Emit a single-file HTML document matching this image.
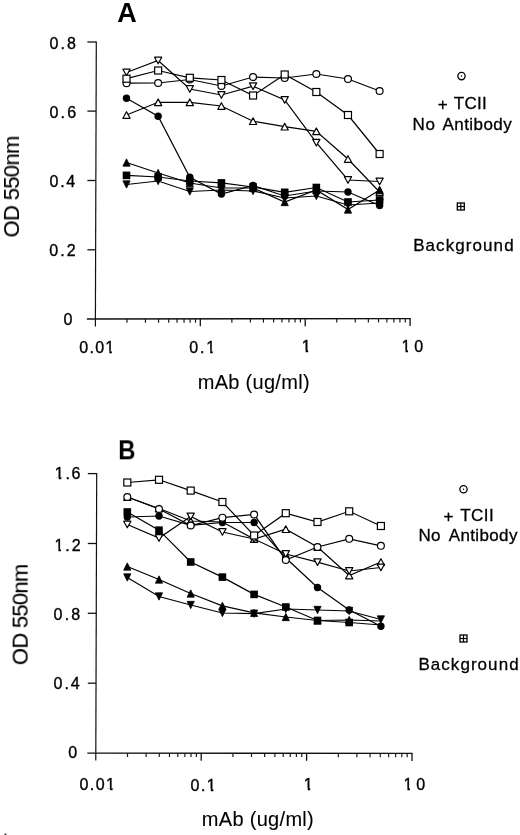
<!DOCTYPE html>
<html><head><meta charset="utf-8"><title>Figure</title><style>
*{margin:0;padding:0}
html,body{width:520px;height:835px;background:#fff;overflow:hidden}
body{position:relative;font-family:"Liberation Sans",sans-serif;color:#000}
.t{position:absolute;left:0;top:0;white-space:nowrap;line-height:1;will-change:transform;-webkit-text-stroke:0.35px #000}.one{display:inline-block;clip-path:polygon(0 0,100% 0,100% 0.68em,0.405em 0.68em,0.405em 100%,0.25em 100%,0.25em 0.68em,0 0.68em)}
</style></head>
<body>
<svg width="520" height="835" viewBox="0 0 520 835" style="position:absolute;left:0;top:0">
<rect width="520" height="835" fill="#fff"/>
<line x1="96.3" y1="41.4" x2="95.38" y2="326.5" stroke="#111" stroke-width="1.2"/><line x1="86.9" y1="319" x2="410.70" y2="318.6" stroke="#111" stroke-width="1.35"/><line x1="87.4" y1="42" x2="96.30" y2="42" stroke="#111" stroke-width="1.3"/><line x1="87.4" y1="111.1" x2="96.08" y2="111.1" stroke="#111" stroke-width="1.3"/><line x1="87.4" y1="180.5" x2="95.85" y2="180.5" stroke="#111" stroke-width="1.3"/><line x1="87.4" y1="249.8" x2="95.62" y2="249.8" stroke="#111" stroke-width="1.3"/><line x1="126.98" y1="318.96" x2="126.98" y2="322.76" stroke="#111" stroke-width="1.15"/><line x1="145.45" y1="318.94" x2="145.45" y2="322.74" stroke="#111" stroke-width="1.15"/><line x1="158.56" y1="318.92" x2="158.56" y2="322.72" stroke="#111" stroke-width="1.15"/><line x1="168.72" y1="318.91" x2="168.72" y2="322.71" stroke="#111" stroke-width="1.15"/><line x1="177.03" y1="318.90" x2="177.03" y2="322.70" stroke="#111" stroke-width="1.15"/><line x1="184.05" y1="318.89" x2="184.05" y2="322.69" stroke="#111" stroke-width="1.15"/><line x1="190.13" y1="318.88" x2="190.13" y2="322.68" stroke="#111" stroke-width="1.15"/><line x1="195.50" y1="318.87" x2="195.50" y2="322.67" stroke="#111" stroke-width="1.15"/><line x1="231.88" y1="318.83" x2="231.88" y2="322.63" stroke="#111" stroke-width="1.15"/><line x1="250.35" y1="318.80" x2="250.35" y2="322.60" stroke="#111" stroke-width="1.15"/><line x1="263.46" y1="318.79" x2="263.46" y2="322.59" stroke="#111" stroke-width="1.15"/><line x1="273.62" y1="318.77" x2="273.62" y2="322.57" stroke="#111" stroke-width="1.15"/><line x1="281.93" y1="318.76" x2="281.93" y2="322.56" stroke="#111" stroke-width="1.15"/><line x1="288.95" y1="318.75" x2="288.95" y2="322.55" stroke="#111" stroke-width="1.15"/><line x1="295.03" y1="318.75" x2="295.03" y2="322.55" stroke="#111" stroke-width="1.15"/><line x1="300.40" y1="318.74" x2="300.40" y2="322.54" stroke="#111" stroke-width="1.15"/><line x1="336.78" y1="318.69" x2="336.78" y2="322.49" stroke="#111" stroke-width="1.15"/><line x1="355.25" y1="318.67" x2="355.25" y2="322.47" stroke="#111" stroke-width="1.15"/><line x1="368.36" y1="318.65" x2="368.36" y2="322.45" stroke="#111" stroke-width="1.15"/><line x1="378.52" y1="318.64" x2="378.52" y2="322.44" stroke="#111" stroke-width="1.15"/><line x1="386.83" y1="318.63" x2="386.83" y2="322.43" stroke="#111" stroke-width="1.15"/><line x1="393.85" y1="318.62" x2="393.85" y2="322.42" stroke="#111" stroke-width="1.15"/><line x1="399.93" y1="318.61" x2="399.93" y2="322.41" stroke="#111" stroke-width="1.15"/><line x1="405.30" y1="318.61" x2="405.30" y2="322.41" stroke="#111" stroke-width="1.15"/><line x1="200.30" y1="318.87" x2="200.30" y2="326.37" stroke="#111" stroke-width="1.3"/><line x1="305.20" y1="318.73" x2="305.20" y2="326.23" stroke="#111" stroke-width="1.3"/><line x1="410.10" y1="318.60" x2="410.10" y2="326.10" stroke="#111" stroke-width="1.3"/>
<polyline points="126.5,175.4 158.1,177.0 189.8,181.0 221.4,182.9 253.1,187.0 284.7,192.3 316.3,187.5 348.0,202.0 379.6,200.0" fill="none" stroke="#000" stroke-width="1.2"/><polyline points="126.5,162.5 158.1,173.0 189.8,183.0 221.4,188.0 253.1,188.0 284.7,202.0 316.3,190.0 348.0,209.5 379.6,190.0" fill="none" stroke="#000" stroke-width="1.2"/><polyline points="126.5,184.5 158.1,181.0 189.8,191.5 221.4,190.0 253.1,191.0 284.7,198.0 316.3,196.0 348.0,205.0 379.6,203.0" fill="none" stroke="#000" stroke-width="1.2"/><polyline points="126.5,115.0 158.1,102.3 189.8,102.3 221.4,106.0 253.1,121.2 284.7,126.7 316.3,131.3 348.0,159.0 379.6,192.0" fill="none" stroke="#000" stroke-width="1.2"/><polyline points="126.5,98.2 158.1,116.2 189.8,177.3 221.4,194.0 253.1,185.5 284.7,196.0 316.3,191.0 348.0,192.0 379.6,205.5" fill="none" stroke="#000" stroke-width="1.2"/><polyline points="126.5,72.5 158.1,60.5 189.8,89.0 221.4,95.0 253.1,86.2 284.7,100.0 316.3,142.7 348.0,180.0 379.6,181.5" fill="none" stroke="#000" stroke-width="1.2"/><polyline points="126.5,83.2 158.1,83.0 189.8,79.5 221.4,86.0 253.1,77.0 284.7,78.0 316.3,74.0 348.0,79.0 379.6,91.0" fill="none" stroke="#000" stroke-width="1.2"/><polyline points="126.5,78.7 158.1,70.5 189.8,77.8 221.4,80.0 253.1,95.5 284.7,74.5 316.3,92.0 348.0,115.0 379.6,154.0" fill="none" stroke="#000" stroke-width="1.2"/>
<rect x="122.70" y="171.60" width="7.6" height="7.6" fill="#000"/><rect x="154.34" y="173.20" width="7.6" height="7.6" fill="#000"/><rect x="185.98" y="177.20" width="7.6" height="7.6" fill="#000"/><rect x="217.62" y="179.10" width="7.6" height="7.6" fill="#000"/><rect x="249.26" y="183.20" width="7.6" height="7.6" fill="#000"/><rect x="280.90" y="188.50" width="7.6" height="7.6" fill="#000"/><rect x="312.54" y="183.70" width="7.6" height="7.6" fill="#000"/><rect x="344.18" y="198.20" width="7.6" height="7.6" fill="#000"/><rect x="375.82" y="196.20" width="7.6" height="7.6" fill="#000"/><polygon points="122.90,166.15 130.10,166.15 126.50,158.85" fill="#000" stroke="#000" stroke-width="0.8" stroke-linejoin="round"/><polygon points="154.54,176.65 161.74,176.65 158.14,169.35" fill="#000" stroke="#000" stroke-width="0.8" stroke-linejoin="round"/><polygon points="186.18,186.65 193.38,186.65 189.78,179.35" fill="#000" stroke="#000" stroke-width="0.8" stroke-linejoin="round"/><polygon points="217.82,191.65 225.02,191.65 221.42,184.35" fill="#000" stroke="#000" stroke-width="0.8" stroke-linejoin="round"/><polygon points="249.46,191.65 256.66,191.65 253.06,184.35" fill="#000" stroke="#000" stroke-width="0.8" stroke-linejoin="round"/><polygon points="281.10,205.65 288.30,205.65 284.70,198.35" fill="#000" stroke="#000" stroke-width="0.8" stroke-linejoin="round"/><polygon points="312.74,193.65 319.94,193.65 316.34,186.35" fill="#000" stroke="#000" stroke-width="0.8" stroke-linejoin="round"/><polygon points="344.38,213.15 351.58,213.15 347.98,205.85" fill="#000" stroke="#000" stroke-width="0.8" stroke-linejoin="round"/><polygon points="376.02,193.65 383.22,193.65 379.62,186.35" fill="#000" stroke="#000" stroke-width="0.8" stroke-linejoin="round"/><polygon points="122.90,180.85 130.10,180.85 126.50,188.15" fill="#000" stroke="#000" stroke-width="0.8" stroke-linejoin="round"/><polygon points="154.54,177.35 161.74,177.35 158.14,184.65" fill="#000" stroke="#000" stroke-width="0.8" stroke-linejoin="round"/><polygon points="186.18,187.85 193.38,187.85 189.78,195.15" fill="#000" stroke="#000" stroke-width="0.8" stroke-linejoin="round"/><polygon points="217.82,186.35 225.02,186.35 221.42,193.65" fill="#000" stroke="#000" stroke-width="0.8" stroke-linejoin="round"/><polygon points="249.46,187.35 256.66,187.35 253.06,194.65" fill="#000" stroke="#000" stroke-width="0.8" stroke-linejoin="round"/><polygon points="281.10,194.35 288.30,194.35 284.70,201.65" fill="#000" stroke="#000" stroke-width="0.8" stroke-linejoin="round"/><polygon points="312.74,192.35 319.94,192.35 316.34,199.65" fill="#000" stroke="#000" stroke-width="0.8" stroke-linejoin="round"/><polygon points="344.38,201.35 351.58,201.35 347.98,208.65" fill="#000" stroke="#000" stroke-width="0.8" stroke-linejoin="round"/><polygon points="376.02,199.35 383.22,199.35 379.62,206.65" fill="#000" stroke="#000" stroke-width="0.8" stroke-linejoin="round"/><polygon points="122.90,118.30 130.10,118.30 126.50,111.70" fill="#fff" stroke="#000" stroke-width="1.2" stroke-linejoin="round"/><polygon points="154.54,105.60 161.74,105.60 158.14,99.00" fill="#fff" stroke="#000" stroke-width="1.2" stroke-linejoin="round"/><polygon points="186.18,105.60 193.38,105.60 189.78,99.00" fill="#fff" stroke="#000" stroke-width="1.2" stroke-linejoin="round"/><polygon points="217.82,109.30 225.02,109.30 221.42,102.70" fill="#fff" stroke="#000" stroke-width="1.2" stroke-linejoin="round"/><polygon points="249.46,124.50 256.66,124.50 253.06,117.90" fill="#fff" stroke="#000" stroke-width="1.2" stroke-linejoin="round"/><polygon points="281.10,130.00 288.30,130.00 284.70,123.40" fill="#fff" stroke="#000" stroke-width="1.2" stroke-linejoin="round"/><polygon points="312.74,134.60 319.94,134.60 316.34,128.00" fill="#fff" stroke="#000" stroke-width="1.2" stroke-linejoin="round"/><polygon points="344.38,162.30 351.58,162.30 347.98,155.70" fill="#fff" stroke="#000" stroke-width="1.2" stroke-linejoin="round"/><polygon points="376.02,195.30 383.22,195.30 379.62,188.70" fill="#fff" stroke="#000" stroke-width="1.2" stroke-linejoin="round"/><circle cx="126.5" cy="98.2" r="3.7" fill="#000"/><circle cx="158.14" cy="116.2" r="3.7" fill="#000"/><circle cx="189.78" cy="177.3" r="3.7" fill="#000"/><circle cx="221.42000000000002" cy="194" r="3.7" fill="#000"/><circle cx="253.06" cy="185.5" r="3.7" fill="#000"/><circle cx="284.7" cy="196" r="3.7" fill="#000"/><circle cx="316.34000000000003" cy="191" r="3.7" fill="#000"/><circle cx="347.98" cy="192" r="3.7" fill="#000"/><circle cx="379.62" cy="205.5" r="3.7" fill="#000"/><polygon points="122.90,69.20 130.10,69.20 126.50,75.80" fill="#fff" stroke="#000" stroke-width="1.2" stroke-linejoin="round"/><polygon points="154.54,57.20 161.74,57.20 158.14,63.80" fill="#fff" stroke="#000" stroke-width="1.2" stroke-linejoin="round"/><polygon points="186.18,85.70 193.38,85.70 189.78,92.30" fill="#fff" stroke="#000" stroke-width="1.2" stroke-linejoin="round"/><polygon points="217.82,91.70 225.02,91.70 221.42,98.30" fill="#fff" stroke="#000" stroke-width="1.2" stroke-linejoin="round"/><polygon points="249.46,82.95 256.66,82.95 253.06,89.55" fill="#fff" stroke="#000" stroke-width="1.2" stroke-linejoin="round"/><polygon points="281.10,96.70 288.30,96.70 284.70,103.30" fill="#fff" stroke="#000" stroke-width="1.2" stroke-linejoin="round"/><polygon points="312.74,139.40 319.94,139.40 316.34,146.00" fill="#fff" stroke="#000" stroke-width="1.2" stroke-linejoin="round"/><polygon points="344.38,176.70 351.58,176.70 347.98,183.30" fill="#fff" stroke="#000" stroke-width="1.2" stroke-linejoin="round"/><polygon points="376.02,178.20 383.22,178.20 379.62,184.80" fill="#fff" stroke="#000" stroke-width="1.2" stroke-linejoin="round"/><circle cx="126.5" cy="83.2" r="3.45" fill="#fff" stroke="#000" stroke-width="1.2"/><circle cx="158.14" cy="83" r="3.45" fill="#fff" stroke="#000" stroke-width="1.2"/><circle cx="189.78" cy="79.5" r="3.45" fill="#fff" stroke="#000" stroke-width="1.2"/><circle cx="221.42000000000002" cy="86" r="3.45" fill="#fff" stroke="#000" stroke-width="1.2"/><circle cx="253.06" cy="77" r="3.45" fill="#fff" stroke="#000" stroke-width="1.2"/><circle cx="284.7" cy="78" r="3.45" fill="#fff" stroke="#000" stroke-width="1.2"/><circle cx="316.34000000000003" cy="74" r="3.45" fill="#fff" stroke="#000" stroke-width="1.2"/><circle cx="347.98" cy="79" r="3.45" fill="#fff" stroke="#000" stroke-width="1.2"/><circle cx="379.62" cy="91" r="3.45" fill="#fff" stroke="#000" stroke-width="1.2"/><rect x="123.00" y="75.20" width="7.0" height="7.0" fill="#fff" stroke="#000" stroke-width="1.2"/><rect x="154.64" y="67.00" width="7.0" height="7.0" fill="#fff" stroke="#000" stroke-width="1.2"/><rect x="186.28" y="74.30" width="7.0" height="7.0" fill="#fff" stroke="#000" stroke-width="1.2"/><rect x="217.92" y="76.50" width="7.0" height="7.0" fill="#fff" stroke="#000" stroke-width="1.2"/><rect x="249.56" y="92.00" width="7.0" height="7.0" fill="#fff" stroke="#000" stroke-width="1.2"/><rect x="281.20" y="71.00" width="7.0" height="7.0" fill="#fff" stroke="#000" stroke-width="1.2"/><rect x="312.84" y="88.50" width="7.0" height="7.0" fill="#fff" stroke="#000" stroke-width="1.2"/><rect x="344.48" y="111.50" width="7.0" height="7.0" fill="#fff" stroke="#000" stroke-width="1.2"/><rect x="376.12" y="150.50" width="7.0" height="7.0" fill="#fff" stroke="#000" stroke-width="1.2"/>
<polygon points="376.02,193.65 383.22,193.65 379.62,186.35" fill="#000" stroke="#000" stroke-width="0.8" stroke-linejoin="round"/>
<line x1="96.7" y1="473.0" x2="95.78" y2="760.6" stroke="#111" stroke-width="1.2"/><line x1="87.3" y1="753.1" x2="412.60" y2="753.4" stroke="#111" stroke-width="1.35"/><line x1="87.8" y1="473.6" x2="96.70" y2="473.6" stroke="#111" stroke-width="1.3"/><line x1="87.8" y1="543.5" x2="96.47" y2="543.5" stroke="#111" stroke-width="1.3"/><line x1="87.8" y1="613.3" x2="96.25" y2="613.3" stroke="#111" stroke-width="1.3"/><line x1="87.8" y1="683.2" x2="96.03" y2="683.2" stroke="#111" stroke-width="1.3"/><line x1="127.53" y1="753.13" x2="127.53" y2="756.93" stroke="#111" stroke-width="1.15"/><line x1="146.09" y1="753.15" x2="146.09" y2="756.95" stroke="#111" stroke-width="1.15"/><line x1="159.26" y1="753.16" x2="159.26" y2="756.96" stroke="#111" stroke-width="1.15"/><line x1="169.47" y1="753.17" x2="169.47" y2="756.97" stroke="#111" stroke-width="1.15"/><line x1="177.82" y1="753.18" x2="177.82" y2="756.98" stroke="#111" stroke-width="1.15"/><line x1="184.87" y1="753.18" x2="184.87" y2="756.98" stroke="#111" stroke-width="1.15"/><line x1="190.99" y1="753.19" x2="190.99" y2="756.99" stroke="#111" stroke-width="1.15"/><line x1="196.38" y1="753.20" x2="196.38" y2="757.00" stroke="#111" stroke-width="1.15"/><line x1="232.93" y1="753.23" x2="232.93" y2="757.03" stroke="#111" stroke-width="1.15"/><line x1="251.49" y1="753.25" x2="251.49" y2="757.05" stroke="#111" stroke-width="1.15"/><line x1="264.66" y1="753.26" x2="264.66" y2="757.06" stroke="#111" stroke-width="1.15"/><line x1="274.87" y1="753.27" x2="274.87" y2="757.07" stroke="#111" stroke-width="1.15"/><line x1="283.22" y1="753.28" x2="283.22" y2="757.08" stroke="#111" stroke-width="1.15"/><line x1="290.27" y1="753.28" x2="290.27" y2="757.08" stroke="#111" stroke-width="1.15"/><line x1="296.39" y1="753.29" x2="296.39" y2="757.09" stroke="#111" stroke-width="1.15"/><line x1="301.78" y1="753.30" x2="301.78" y2="757.10" stroke="#111" stroke-width="1.15"/><line x1="338.33" y1="753.33" x2="338.33" y2="757.13" stroke="#111" stroke-width="1.15"/><line x1="356.89" y1="753.35" x2="356.89" y2="757.15" stroke="#111" stroke-width="1.15"/><line x1="370.06" y1="753.36" x2="370.06" y2="757.16" stroke="#111" stroke-width="1.15"/><line x1="380.27" y1="753.37" x2="380.27" y2="757.17" stroke="#111" stroke-width="1.15"/><line x1="388.62" y1="753.38" x2="388.62" y2="757.18" stroke="#111" stroke-width="1.15"/><line x1="395.67" y1="753.38" x2="395.67" y2="757.18" stroke="#111" stroke-width="1.15"/><line x1="401.79" y1="753.39" x2="401.79" y2="757.19" stroke="#111" stroke-width="1.15"/><line x1="407.18" y1="753.40" x2="407.18" y2="757.20" stroke="#111" stroke-width="1.15"/><line x1="201.20" y1="753.20" x2="201.20" y2="760.70" stroke="#111" stroke-width="1.3"/><line x1="306.60" y1="753.30" x2="306.60" y2="760.80" stroke="#111" stroke-width="1.3"/><line x1="412.00" y1="753.40" x2="412.00" y2="760.90" stroke="#111" stroke-width="1.3"/>
<polyline points="127.3,512.0 159.0,530.2 190.7,562.0 222.4,577.1 254.1,594.4 285.8,607.0 317.5,620.5 349.2,622.5 380.9,625.0" fill="none" stroke="#000" stroke-width="1.2"/><polyline points="127.3,566.5 159.0,579.5 190.7,593.5 222.4,605.8 254.1,612.8 285.8,617.0 317.5,620.5 349.2,620.0 380.9,621.0" fill="none" stroke="#000" stroke-width="1.2"/><polyline points="127.3,577.5 159.0,596.5 190.7,605.0 222.4,613.0 254.1,613.7 285.8,609.0 317.5,610.0 349.2,611.0 380.9,619.5" fill="none" stroke="#000" stroke-width="1.2"/><polyline points="127.3,497.0 159.0,508.5 190.7,521.0 222.4,522.0 254.1,539.0 285.8,529.2 317.5,547.0 349.2,575.5 380.9,562.0" fill="none" stroke="#000" stroke-width="1.2"/><polyline points="127.3,517.0 159.0,516.0 190.7,525.3 222.4,522.5 254.1,522.5 285.8,558.0 317.5,587.5 349.2,610.0 380.9,626.3" fill="none" stroke="#000" stroke-width="1.2"/><polyline points="127.3,524.5 159.0,538.0 190.7,516.4 222.4,532.0 254.1,539.0 285.8,554.0 317.5,562.2 349.2,571.0 380.9,567.5" fill="none" stroke="#000" stroke-width="1.2"/><polyline points="127.3,497.0 159.0,509.0 190.7,525.5 222.4,517.7 254.1,514.5 285.8,560.0 317.5,547.0 349.2,538.8 380.9,545.8" fill="none" stroke="#000" stroke-width="1.2"/><polyline points="127.3,482.5 159.0,479.8 190.7,490.6 222.4,502.0 254.1,535.5 285.8,513.2 317.5,522.0 349.2,511.3 380.9,526.0" fill="none" stroke="#000" stroke-width="1.2"/>
<rect x="123.50" y="508.20" width="7.6" height="7.6" fill="#000"/><rect x="155.20" y="526.40" width="7.6" height="7.6" fill="#000"/><rect x="186.90" y="558.20" width="7.6" height="7.6" fill="#000"/><rect x="218.60" y="573.30" width="7.6" height="7.6" fill="#000"/><rect x="250.30" y="590.60" width="7.6" height="7.6" fill="#000"/><rect x="282.00" y="603.20" width="7.6" height="7.6" fill="#000"/><rect x="313.70" y="616.70" width="7.6" height="7.6" fill="#000"/><rect x="345.40" y="618.70" width="7.6" height="7.6" fill="#000"/><polygon points="123.70,570.15 130.90,570.15 127.30,562.85" fill="#000" stroke="#000" stroke-width="0.8" stroke-linejoin="round"/><polygon points="155.40,583.15 162.60,583.15 159.00,575.85" fill="#000" stroke="#000" stroke-width="0.8" stroke-linejoin="round"/><polygon points="187.10,597.15 194.30,597.15 190.70,589.85" fill="#000" stroke="#000" stroke-width="0.8" stroke-linejoin="round"/><polygon points="218.80,609.45 226.00,609.45 222.40,602.15" fill="#000" stroke="#000" stroke-width="0.8" stroke-linejoin="round"/><polygon points="250.50,616.45 257.70,616.45 254.10,609.15" fill="#000" stroke="#000" stroke-width="0.8" stroke-linejoin="round"/><polygon points="282.20,620.65 289.40,620.65 285.80,613.35" fill="#000" stroke="#000" stroke-width="0.8" stroke-linejoin="round"/><polygon points="313.90,624.15 321.10,624.15 317.50,616.85" fill="#000" stroke="#000" stroke-width="0.8" stroke-linejoin="round"/><polygon points="345.60,623.65 352.80,623.65 349.20,616.35" fill="#000" stroke="#000" stroke-width="0.8" stroke-linejoin="round"/><polygon points="123.70,573.85 130.90,573.85 127.30,581.15" fill="#000" stroke="#000" stroke-width="0.8" stroke-linejoin="round"/><polygon points="155.40,592.85 162.60,592.85 159.00,600.15" fill="#000" stroke="#000" stroke-width="0.8" stroke-linejoin="round"/><polygon points="187.10,601.35 194.30,601.35 190.70,608.65" fill="#000" stroke="#000" stroke-width="0.8" stroke-linejoin="round"/><polygon points="218.80,609.35 226.00,609.35 222.40,616.65" fill="#000" stroke="#000" stroke-width="0.8" stroke-linejoin="round"/><polygon points="250.50,610.05 257.70,610.05 254.10,617.35" fill="#000" stroke="#000" stroke-width="0.8" stroke-linejoin="round"/><polygon points="282.20,605.35 289.40,605.35 285.80,612.65" fill="#000" stroke="#000" stroke-width="0.8" stroke-linejoin="round"/><polygon points="313.90,606.35 321.10,606.35 317.50,613.65" fill="#000" stroke="#000" stroke-width="0.8" stroke-linejoin="round"/><polygon points="345.60,607.35 352.80,607.35 349.20,614.65" fill="#000" stroke="#000" stroke-width="0.8" stroke-linejoin="round"/><polygon points="377.30,615.85 384.50,615.85 380.90,623.15" fill="#000" stroke="#000" stroke-width="0.8" stroke-linejoin="round"/><polygon points="123.70,500.30 130.90,500.30 127.30,493.70" fill="#fff" stroke="#000" stroke-width="1.2" stroke-linejoin="round"/><polygon points="155.40,511.80 162.60,511.80 159.00,505.20" fill="#fff" stroke="#000" stroke-width="1.2" stroke-linejoin="round"/><polygon points="187.10,524.30 194.30,524.30 190.70,517.70" fill="#fff" stroke="#000" stroke-width="1.2" stroke-linejoin="round"/><polygon points="250.50,542.30 257.70,542.30 254.10,535.70" fill="#fff" stroke="#000" stroke-width="1.2" stroke-linejoin="round"/><polygon points="282.20,532.50 289.40,532.50 285.80,525.90" fill="#fff" stroke="#000" stroke-width="1.2" stroke-linejoin="round"/><polygon points="313.90,550.30 321.10,550.30 317.50,543.70" fill="#fff" stroke="#000" stroke-width="1.2" stroke-linejoin="round"/><polygon points="345.60,578.80 352.80,578.80 349.20,572.20" fill="#fff" stroke="#000" stroke-width="1.2" stroke-linejoin="round"/><polygon points="377.30,565.30 384.50,565.30 380.90,558.70" fill="#fff" stroke="#000" stroke-width="1.2" stroke-linejoin="round"/><circle cx="127.3" cy="517" r="3.7" fill="#000"/><circle cx="159.0" cy="516" r="3.7" fill="#000"/><circle cx="190.7" cy="525.3" r="3.7" fill="#000"/><circle cx="222.39999999999998" cy="522.5" r="3.7" fill="#000"/><circle cx="254.1" cy="522.5" r="3.7" fill="#000"/><circle cx="285.8" cy="558" r="3.7" fill="#000"/><circle cx="317.5" cy="587.5" r="3.7" fill="#000"/><circle cx="349.2" cy="610" r="3.7" fill="#000"/><circle cx="380.9" cy="626.3" r="3.7" fill="#000"/><polygon points="123.70,521.20 130.90,521.20 127.30,527.80" fill="#fff" stroke="#000" stroke-width="1.2" stroke-linejoin="round"/><polygon points="155.40,534.70 162.60,534.70 159.00,541.30" fill="#fff" stroke="#000" stroke-width="1.2" stroke-linejoin="round"/><polygon points="187.10,513.10 194.30,513.10 190.70,519.70" fill="#fff" stroke="#000" stroke-width="1.2" stroke-linejoin="round"/><polygon points="218.80,528.70 226.00,528.70 222.40,535.30" fill="#fff" stroke="#000" stroke-width="1.2" stroke-linejoin="round"/><polygon points="250.50,535.70 257.70,535.70 254.10,542.30" fill="#fff" stroke="#000" stroke-width="1.2" stroke-linejoin="round"/><polygon points="282.20,550.70 289.40,550.70 285.80,557.30" fill="#fff" stroke="#000" stroke-width="1.2" stroke-linejoin="round"/><polygon points="313.90,558.90 321.10,558.90 317.50,565.50" fill="#fff" stroke="#000" stroke-width="1.2" stroke-linejoin="round"/><polygon points="345.60,567.70 352.80,567.70 349.20,574.30" fill="#fff" stroke="#000" stroke-width="1.2" stroke-linejoin="round"/><polygon points="377.30,564.20 384.50,564.20 380.90,570.80" fill="#fff" stroke="#000" stroke-width="1.2" stroke-linejoin="round"/><circle cx="127.3" cy="497" r="3.45" fill="#fff" stroke="#000" stroke-width="1.2"/><circle cx="159.0" cy="509" r="3.45" fill="#fff" stroke="#000" stroke-width="1.2"/><circle cx="190.7" cy="525.5" r="3.45" fill="#fff" stroke="#000" stroke-width="1.2"/><circle cx="222.39999999999998" cy="517.7" r="3.45" fill="#fff" stroke="#000" stroke-width="1.2"/><circle cx="254.1" cy="514.5" r="3.45" fill="#fff" stroke="#000" stroke-width="1.2"/><circle cx="285.8" cy="560" r="3.45" fill="#fff" stroke="#000" stroke-width="1.2"/><circle cx="317.5" cy="547" r="3.45" fill="#fff" stroke="#000" stroke-width="1.2"/><circle cx="349.2" cy="538.8" r="3.45" fill="#fff" stroke="#000" stroke-width="1.2"/><circle cx="380.9" cy="545.8" r="3.45" fill="#fff" stroke="#000" stroke-width="1.2"/><rect x="123.80" y="479.00" width="7.0" height="7.0" fill="#fff" stroke="#000" stroke-width="1.2"/><rect x="155.50" y="476.30" width="7.0" height="7.0" fill="#fff" stroke="#000" stroke-width="1.2"/><rect x="187.20" y="487.10" width="7.0" height="7.0" fill="#fff" stroke="#000" stroke-width="1.2"/><rect x="218.90" y="498.50" width="7.0" height="7.0" fill="#fff" stroke="#000" stroke-width="1.2"/><rect x="250.60" y="532.00" width="7.0" height="7.0" fill="#fff" stroke="#000" stroke-width="1.2"/><rect x="282.30" y="509.70" width="7.0" height="7.0" fill="#fff" stroke="#000" stroke-width="1.2"/><rect x="314.00" y="518.50" width="7.0" height="7.0" fill="#fff" stroke="#000" stroke-width="1.2"/><rect x="345.70" y="507.80" width="7.0" height="7.0" fill="#fff" stroke="#000" stroke-width="1.2"/><rect x="377.40" y="522.50" width="7.0" height="7.0" fill="#fff" stroke="#000" stroke-width="1.2"/>
<circle cx="461.5" cy="76.1" r="3.65" fill="#fff" stroke="#000" stroke-width="1.3"/><circle cx="461.5" cy="76.1" r="0.75" fill="#000"/>
<circle cx="463.5" cy="489.3" r="3.65" fill="#fff" stroke="#000" stroke-width="1.3"/><circle cx="463.5" cy="489.3" r="0.75" fill="#000"/>
<rect x="457.3" y="203.0" width="7.0" height="7.0" fill="#fff" stroke="#000" stroke-width="1.3"/><line x1="460.8" y1="203.0" x2="460.8" y2="210.0" stroke="#000" stroke-width="1.2"/><line x1="457.3" y1="206.5" x2="464.3" y2="206.5" stroke="#000" stroke-width="1.2"/>
<rect x="460.0" y="635.0" width="7.0" height="7.0" fill="#fff" stroke="#000" stroke-width="1.3"/><line x1="463.5" y1="635.0" x2="463.5" y2="642.0" stroke="#000" stroke-width="1.2"/><line x1="460.0" y1="638.5" x2="467.0" y2="638.5" stroke="#000" stroke-width="1.2"/>
<circle cx="5.4" cy="834.6" r="1.1" fill="#333"/>
</svg>
<div class="t" style="font-size:16px;letter-spacing:1.99px;transform:translate(49.62px,35.77px);transform-origin:0 0;-webkit-text-stroke:0.35px #000">0.8</div><div class="t" style="font-size:16px;letter-spacing:2.17px;transform:translate(49.50px,104.50px);transform-origin:0 0;-webkit-text-stroke:0.35px #000">0.6</div><div class="t" style="font-size:16px;letter-spacing:1.71px;transform:translate(49.56px,173.97px);transform-origin:0 0;-webkit-text-stroke:0.35px #000">0.4</div><div class="t" style="font-size:16px;letter-spacing:2.16px;transform:translate(49.14px,243.35px);transform-origin:0 0;-webkit-text-stroke:0.35px #000">0.2</div><div class="t" style="font-size:16px;letter-spacing:0.00px;transform:translate(63.51px,312.02px);transform-origin:0 0;-webkit-text-stroke:0.35px #000">0</div><div class="t" style="font-size:16px;letter-spacing:1.76px;transform:translate(54.74px,466.27px);transform-origin:0 0;-webkit-text-stroke:0.35px #000"><span class="one">1</span>.6</div><div class="t" style="font-size:16px;letter-spacing:2.00px;transform:translate(54.41px,537.52px);transform-origin:0 0;-webkit-text-stroke:0.35px #000"><span class="one">1</span>.2</div><div class="t" style="font-size:16px;letter-spacing:2.16px;transform:translate(53.61px,607.10px);transform-origin:0 0;-webkit-text-stroke:0.35px #000">0.8</div><div class="t" style="font-size:16px;letter-spacing:1.95px;transform:translate(53.58px,675.86px);transform-origin:0 0;-webkit-text-stroke:0.35px #000">0.4</div><div class="t" style="font-size:16px;letter-spacing:0.00px;transform:translate(68.34px,745.43px);transform-origin:0 0;-webkit-text-stroke:0.35px #000">0</div><div class="t" style="font-size:16px;letter-spacing:1.31px;transform:translate(79.18px,339.81px);transform-origin:0 0;-webkit-text-stroke:0.35px #000">0.0<span class="one">1</span></div><div class="t" style="font-size:16px;letter-spacing:1.77px;transform:translate(189.33px,339.66px);transform-origin:0 0;-webkit-text-stroke:0.35px #000">0.<span class="one">1</span></div><div class="t" style="font-size:16px;letter-spacing:0.00px;transform:translate(301.67px,339.10px);transform-origin:0 0;-webkit-text-stroke:0.35px #000"><span class="one">1</span></div><div class="t" style="font-size:16px;letter-spacing:3.71px;transform:translate(401.53px,339.07px);transform-origin:0 0;-webkit-text-stroke:0.35px #000"><span class="one">1</span>0</div><div class="t" style="font-size:16px;letter-spacing:1.43px;transform:translate(79.54px,777.43px);transform-origin:0 0;-webkit-text-stroke:0.35px #000">0.0<span class="one">1</span></div><div class="t" style="font-size:16px;letter-spacing:1.48px;transform:translate(190.56px,777.82px);transform-origin:0 0;-webkit-text-stroke:0.35px #000">0.<span class="one">1</span></div><div class="t" style="font-size:16px;letter-spacing:0.00px;transform:translate(303.73px,777.14px);transform-origin:0 0;-webkit-text-stroke:0.35px #000"><span class="one">1</span></div><div class="t" style="font-size:16px;letter-spacing:3.85px;transform:translate(403.43px,776.90px);transform-origin:0 0;-webkit-text-stroke:0.35px #000"><span class="one">1</span>0</div><div class="t" style="font-size:20px;letter-spacing:0.30px;transform:translate(197.67px,371.69px);transform-origin:0 0;-webkit-text-stroke:0.1px #000">mAb (ug/ml)</div><div class="t" style="font-size:20px;letter-spacing:0.30px;transform:translate(201.85px,809.20px);transform-origin:0 0;-webkit-text-stroke:0.1px #000">mAb (ug/ml)</div><div class="t" style="font-size:22px;letter-spacing:-0.65px;transform:translate(1.00px,237.50px) rotate(-90deg);transform-origin:0 0;-webkit-text-stroke:0.15px #000">OD 550nm</div><div class="t" style="font-size:22px;letter-spacing:-0.73px;transform:translate(9.65px,665.16px) rotate(-90deg);transform-origin:0 0;-webkit-text-stroke:0.15px #000">OD 550nm</div><div class="t" style="font-size:27px;letter-spacing:0.00px;transform:translate(117.13px,0.02px);transform-origin:0 0;font-weight:bold;-webkit-text-stroke:0px #000">A</div><div class="t" style="font-size:27px;letter-spacing:0.00px;transform:translate(118.29px,437.26px) scaleX(0.88);transform-origin:0 0;font-weight:bold;-webkit-text-stroke:0px #000">B</div><div class="t" style="font-size:17px;letter-spacing:0.00px;transform:translate(437.63px,96.44px);transform-origin:0 0;-webkit-text-stroke:0.3px #000">+</div><div class="t" style="font-size:17px;letter-spacing:0.36px;transform:translate(453.65px,95.02px);transform-origin:0 0;-webkit-text-stroke:0.3px #000">TCII</div><div class="t" style="font-size:17px;letter-spacing:0.75px;transform:translate(412.39px,115.79px);transform-origin:0 0;-webkit-text-stroke:0.3px #000">No</div><div class="t" style="font-size:17px;letter-spacing:0.43px;transform:translate(442.54px,115.79px);transform-origin:0 0;-webkit-text-stroke:0.3px #000">Antibody</div><div class="t" style="font-size:17px;letter-spacing:1.08px;transform:translate(413.14px,237.15px);transform-origin:0 0;-webkit-text-stroke:0.3px #000">Background</div><div class="t" style="font-size:17px;letter-spacing:0.00px;transform:translate(443.61px,507.78px);transform-origin:0 0;-webkit-text-stroke:0.3px #000">+</div><div class="t" style="font-size:17px;letter-spacing:0.43px;transform:translate(460.29px,507.03px);transform-origin:0 0;-webkit-text-stroke:0.3px #000">TCII</div><div class="t" style="font-size:17px;letter-spacing:0.05px;transform:translate(418.59px,527.47px);transform-origin:0 0;-webkit-text-stroke:0.3px #000">No</div><div class="t" style="font-size:17px;letter-spacing:0.35px;transform:translate(448.80px,527.47px);transform-origin:0 0;-webkit-text-stroke:0.3px #000">Antibody</div><div class="t" style="font-size:17px;letter-spacing:1.05px;transform:translate(418.41px,656.11px);transform-origin:0 0;-webkit-text-stroke:0.3px #000">Background</div>
</body></html>
